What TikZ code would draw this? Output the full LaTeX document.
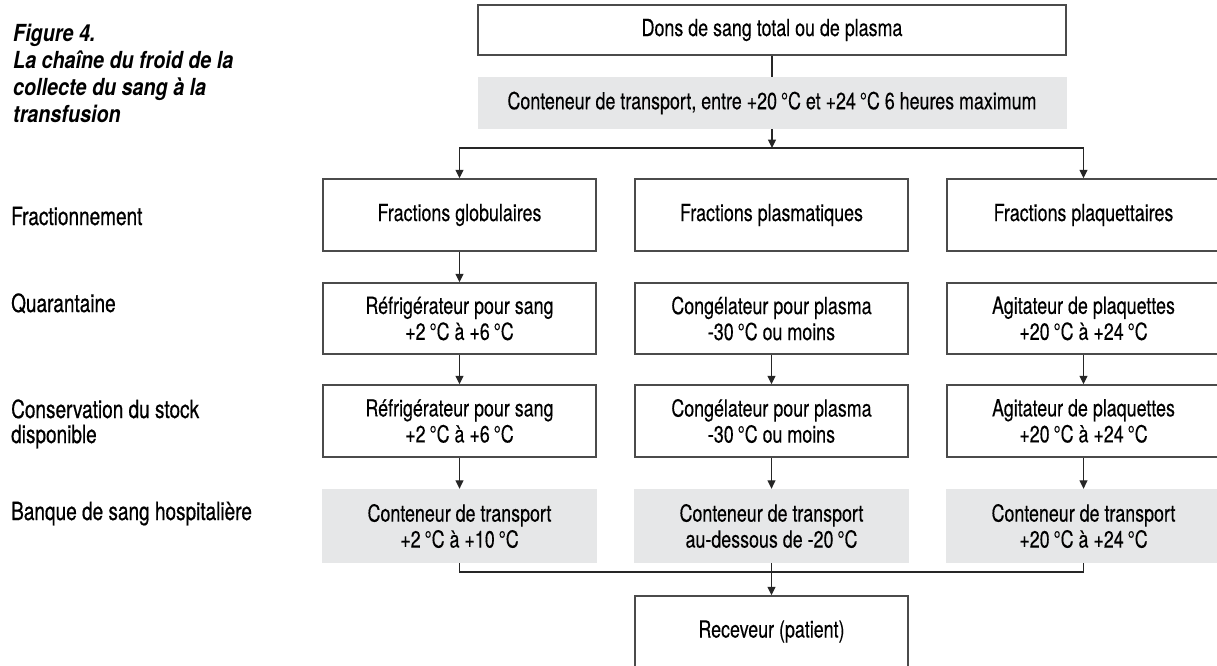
\documentclass[tikz,border=0pt]{standalone}
\usepackage{fontspec}
\setmainfont[FakeStretch=0.76,FakeBold=0.25]{TeX Gyre Heros}
\newfontfamily\titlefont[FakeStretch=0.84]{TeX Gyre Heros}
\newfontfamily\stagefont[FakeStretch=0.76,FakeBold=0.6]{TeX Gyre Heros}
\usetikzlibrary{arrows.meta}
\definecolor{boxgray}{RGB}{230,231,232}
\definecolor{edgegray}{RGB}{75,75,75}
\begin{document}
\begin{tikzpicture}[x=1pt,y=-1pt,
  every node/.style={font=\fontsize{23.5}{26}\selectfont},
  box/.style={draw=edgegray,line width=1.5pt,minimum width=273pt,minimum height=72pt,inner sep=0pt,align=center},
  shaded/.style={fill=boxgray,minimum width=275pt,minimum height=74pt,inner sep=0pt,align=center},
  stage/.style={anchor=base west,inner sep=0pt,align=left,font=\stagefont\fontsize{25}{25}\selectfont},
  link/.style={draw=black!85,line width=1.2pt},
  arrow/.style={link,-{Triangle[width=8pt,length=8.5pt]}}]
 \useasboundingbox (0,0) rectangle (1217,665);
 \node [anchor=base west,inner sep=0pt,align=left,
  font=\titlefont\fontsize{23.5}{27}\selectfont\bfseries\itshape] (title) at (13,122)
  {Figure 4.\\La chaîne du froid de la\\collecte du sang à la\\transfusion};
 \node [stage] (lbFrac) at (11,225) {Fractionnement};
 \node [stage] (lbQuar) at (11,312) {Quarantaine};
 \node [stage] (lbCons) at (11,443) {Conservation du stock\\disponible};
 \node [stage] (lbBanque) at (11,520) {Banque de sang hospitalière};
 \node [box,minimum width=588pt,minimum height=50pt] (dons) at (772,30) {Dons de sang total ou de plasma};
 \node [shaded,minimum width=589pt,minimum height=52pt] (transport) at (772,103)
  {Conteneur de transport, entre +20\,°C et +24\,°C 6 heures maximum};
 \node [box] (frGlob) at (459.5,215) {Fractions globulaires};
 \node [box] (frPlasma) at (771.5,215) {Fractions plasmatiques};
 \node [box] (frPlaq) at (1083.5,215) {Fractions plaquettaires};
 \node [box,minimum height=71pt] (qrGlob) at (459.5,318.5) {Réfrigérateur pour sang\\+2\,°C à +6\,°C};
 \node [box,minimum height=71pt] (qrPlasma) at (771.5,318.5) {Congélateur pour plasma\\-30\,°C ou moins};
 \node [box,minimum height=71pt] (qrPlaq) at (1083.5,318.5) {Agitateur de plaquettes\\+20\,°C à +24\,°C};
 \node [box] (csGlob) at (459.5,421) {Réfrigérateur pour sang\\+2\,°C à +6\,°C};
 \node [box] (csPlasma) at (771.5,421) {Congélateur pour plasma\\-30\,°C ou moins};
 \node [box] (csPlaq) at (1083.5,421) {Agitateur de plaquettes\\+20\,°C à +24\,°C};
 \node [shaded] (bqGlob) at (459.5,526) {Conteneur de transport\\+2\,°C à +10\,°C};
 \node [shaded] (bqPlasma) at (771.5,526) {Conteneur de transport\\au-dessous de -20\,°C};
 \node [shaded] (bqPlaq) at (1083.5,526) {Conteneur de transport\\+20\,°C à +24\,°C};
 \node [box,minimum height=71pt] (receveur) at (771.5,631.5) {Receveur (patient)};
 \coordinate (split) at (772,148);
 \coordinate (merge) at (771.5,572);
 \draw [link] (dons) -- (transport);
 \draw [arrow] (transport) -- (split);
 \draw [arrow] (split) -| (frGlob);
 \draw [arrow] (split) -| (frPlaq);
 \draw [arrow] (frGlob) -- (qrGlob);
 \foreach \c in {Glob,Plasma,Plaq} {
  \draw [arrow] (qr\c) -- (cs\c);
  \draw [arrow] (cs\c) -- (bq\c);
 }
 \draw [link] (bqGlob) |- (merge) -| (bqPlaq);
 \draw [arrow] (bqPlasma) -- (receveur);
\end{tikzpicture}
\end{document}
